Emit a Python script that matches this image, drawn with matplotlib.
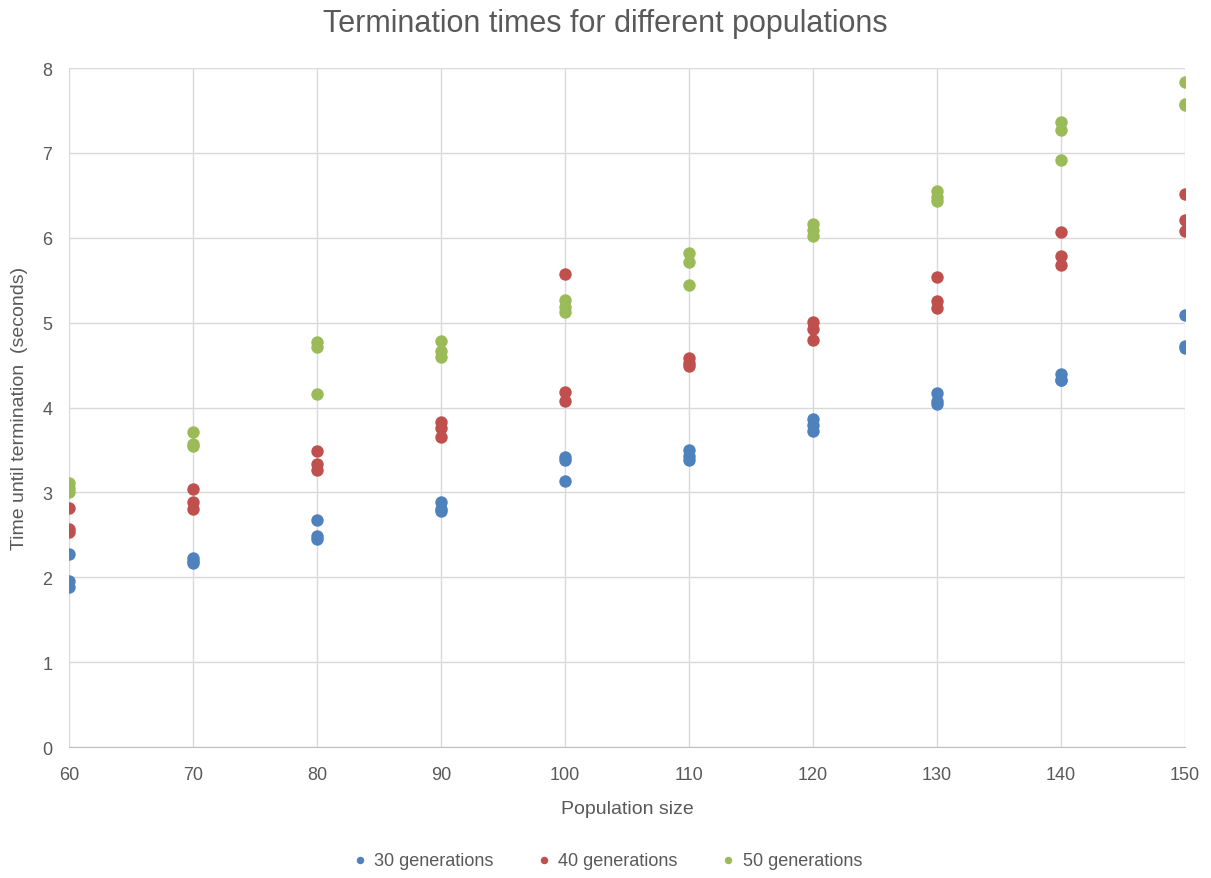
import matplotlib
matplotlib.use("Agg")
import matplotlib.pyplot as plt

plt.rcParams['font.family'] = ['Liberation Sans', 'DejaVu Sans']

pop = [60, 70, 80, 90, 100, 110, 120, 130, 140, 150]
gen30 = [[2.27, 1.96, 1.89], [2.23, 2.19, 2.17], [2.67, 2.49, 2.45], [2.89, 2.81, 2.78],
         [3.42, 3.38, 3.14], [3.50, 3.43, 3.38], [3.87, 3.79, 3.72], [4.17, 4.08, 4.04],
         [4.39, 4.32, 4.33], [5.09, 4.73, 4.70]]
gen40 = [[2.82, 2.57, 2.53], [3.04, 2.89, 2.81], [3.49, 3.33, 3.26], [3.83, 3.76, 3.65],
         [5.57, 4.18, 4.08], [4.58, 4.53, 4.49], [5.01, 4.92, 4.79], [5.54, 5.25, 5.17],
         [6.07, 5.78, 5.68], [6.51, 6.21, 6.08]]
gen50 = [[3.11, 3.05, 3.00], [3.71, 3.57, 3.55], [4.77, 4.71, 4.16], [4.78, 4.66, 4.59],
         [5.27, 5.18, 5.12], [5.82, 5.71, 5.44], [6.16, 6.09, 6.02], [6.55, 6.48, 6.43],
         [7.36, 7.27, 6.92], [7.84, 7.57, 7.56]]
series = [("30 generations", gen30, "#4F81BD"),
          ("40 generations", gen40, "#C0504D"),
          ("50 generations", gen50, "#9BBB59")]

fig = plt.figure(figsize=(12.11, 8.79), dpi=100)
ax = fig.add_axes([0.057, 0.149, 0.9215, 0.7725])
txt = "#595959"
for name, vals, col in series:
    xs = [p for p, v in zip(pop, vals) for _ in v]
    ys = [y for v in vals for y in v]
    ax.scatter(xs, ys, s=80, color=col, label=name, zorder=3, linewidths=0)

ax.set_xlim(60, 150)
ax.set_ylim(0, 8)
ax.set_xticks(pop)
ax.set_yticks(range(0, 9))
ax.grid(True, color="#D9D9D9", linewidth=1.0, zorder=0)
for s in ["top", "right", "left"]:
    ax.spines[s].set_visible(False)
ax.spines["bottom"].set_color("#BFBFBF")
ax.tick_params(axis="x", length=0, labelsize=13, colors=txt, pad=14)
ax.tick_params(axis="y", length=0, labelsize=13, colors=txt, pad=12)
ax.set_xlabel("Population size", fontsize=14, color=txt, labelpad=12)
ax.set_ylabel("Time until termination  (seconds)", fontsize=14, color=txt, labelpad=10)
fig.suptitle("Termination times for different populations", fontsize=22, color=txt, y=0.99)
leg = fig.legend(loc="lower center", bbox_to_anchor=(0.497, -0.008), ncol=3, frameon=False,
                 fontsize=13, handletextpad=-0.2, columnspacing=1.8, markerscale=0.6)
for t in leg.get_texts():
    t.set_color(txt)
fig.savefig("out.png", dpi=100)
